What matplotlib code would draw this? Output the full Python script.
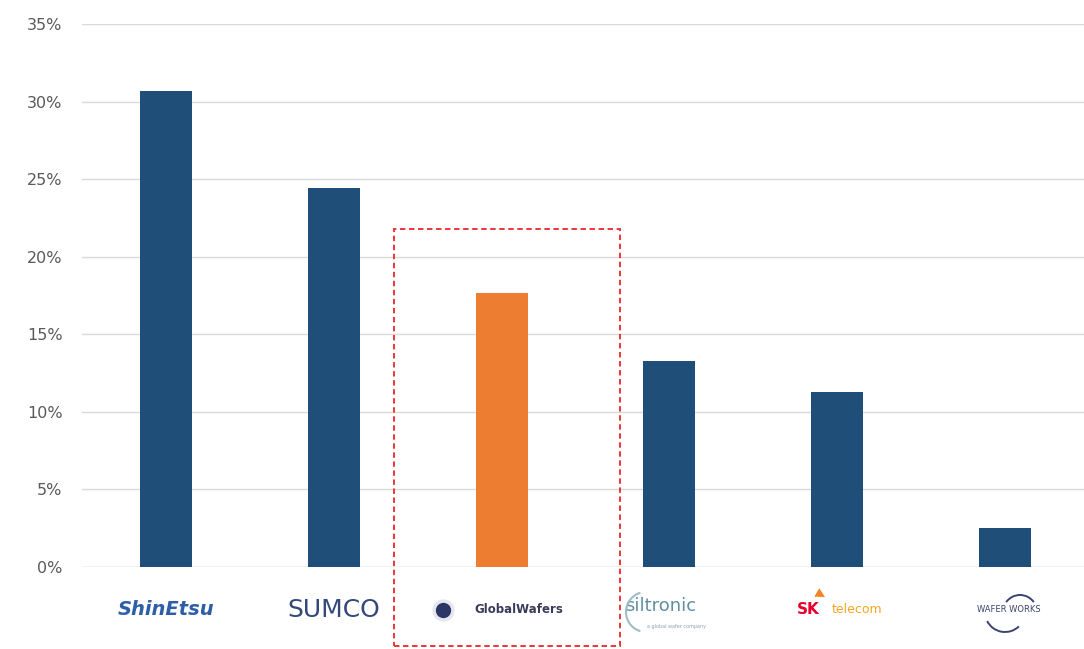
"""Silicon wafer market share bar chart with logo-like labels."""

import matplotlib.pyplot as plt
from matplotlib.patches import Rectangle, Arc

# Data
companies = ["Shin-Etsu", "SUMCO", "GlobalWafers", "Siltronic", "SK Siltron", "Wafer Works"]
shares = [30.7, 24.4, 17.65, 13.3, 11.3, 2.5]
highlight = "GlobalWafers"
y_ticks = [0, 5, 10, 15, 20, 25, 30, 35]

NAVY = "#1f4e79"
ORANGE = "#ed7d31"
W, H = 1084, 649

fig = plt.figure(figsize=(10.84, 6.49), dpi=100)
ax = fig.add_axes([82 / W, 82 / H, 1002 / W, 543 / H])

x = list(range(len(companies)))
colors = [ORANGE if c == highlight else NAVY for c in companies]
ax.bar(x, shares, width=0.31, color=colors, zorder=3)

ax.set_xlim(-0.5, 5.47)
ax.set_ylim(0, 35)
ax.set_yticks(y_ticks)
ax.set_yticklabels([f"{t}%" for t in y_ticks], color="#595959", fontsize=11.5)
ax.tick_params(axis="y", length=0, pad=14)
ax.set_xticks([])
ax.grid(axis="y", color="#d9d9d9", linewidth=1, zorder=0)
for s in ax.spines.values():
    s.set_visible(False)
ax.axhline(0, color="#d9d9d9", linewidth=1, zorder=1)

# Highlight box around GlobalWafers
hi = companies.index(highlight)
ax.add_patch(Rectangle((hi - 0.643, -5.1), 1.351, 26.9, fill=False,
                       edgecolor="#e8262b", linestyle=(0, (3, 2)),
                       linewidth=1.3, clip_on=False, zorder=4))


def px_arc(cx, cy, r, t1, t2, color, lw=1.5):
    # arc given in figure pixels from the top-left corner
    fig.add_artist(Arc((cx / W, 1 - cy / H), 2 * r / W, 2 * r / H,
                       theta1=t1, theta2=t2, color=color, linewidth=lw,
                       transform=fig.transFigure))


# Logo-like labels under the bars
tr = ax.get_xaxis_transform()
ly = -0.079
ax.text(0, ly, "ShinEtsu", transform=tr, ha="center", va="center",
        fontsize=14, fontweight="bold", style="italic", color="#2d5ea8")
ax.text(1, ly, "SUMCO", transform=tr, ha="center", va="center",
        fontsize=18, color="#34487a")

ax.plot([hi - 0.35], [ly], transform=tr, marker="o", markersize=15,
        color="#e6e6ee", clip_on=False, zorder=5)
ax.plot([hi - 0.35], [ly], transform=tr, marker="o", markersize=10,
        color="#2b3566", clip_on=False, zorder=6)
ax.text(hi + 0.1, ly, "GlobalWafers", transform=tr, ha="center", va="center",
        fontsize=8.5, fontweight="bold", color="#3a3a5a")

ax.text(3 - 0.05, ly + 0.008, "siltronic", transform=tr, ha="center", va="center",
        fontsize=13, color="#5f8fa0")
ax.text(3 + 0.04, ly - 0.03, "a global wafer company", transform=tr,
        ha="center", va="center", fontsize=3.5, color="#8aa5b0")
px_arc(646, 612, 20, 100, 260, "#9fbcc6")

ax.text(4 - 0.17, ly, "SK", transform=tr, ha="center", va="center",
        fontsize=11, fontweight="bold", color="#e4002b")
ax.text(4 + 0.12, ly, "telecom", transform=tr, ha="center", va="center",
        fontsize=9, color="#f5a623")
ax.text(4 - 0.1, ly + 0.03, "\u25b6", transform=tr, ha="center", va="center",
        fontsize=9, color="#f58220", rotation=-30)

ax.text(5 + 0.02, ly, "WAFER WORKS", transform=tr, ha="center", va="center",
        fontsize=6, color="#3a4470")
px_arc(1020, 612, 17, 50, 130, "#3a4470", lw=1.4)
px_arc(1005, 612, 20, 220, 300, "#3a4470", lw=1.4)

fig.savefig("out.png", dpi=100)
